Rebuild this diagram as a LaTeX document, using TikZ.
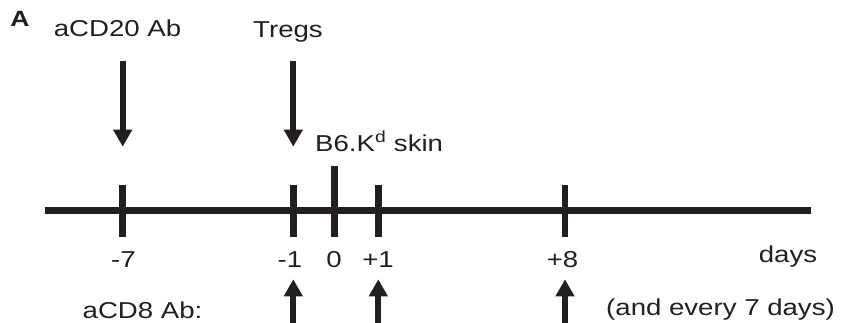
\documentclass[tikz,border=0pt]{standalone}
\usepackage{fontspec}
\setmainfont{Liberation Sans}[FakeStretch=1.2]
\usetikzlibrary{arrows.meta}
\definecolor{ink}{HTML}{231F20}
\tikzset{
  lbl/.style={anchor=base, inner sep=0pt, text=ink, font=\fontsize{23}{27}\selectfont},
  axisline/.style={draw=ink, line width=6.5pt},
  tickline/.style={draw=ink, line width=6.5pt},
  dose/.style={draw=ink, line width=6pt, -{Triangle[width=18pt,length=17pt]}, fill=ink},
}
\begin{document}
\begin{tikzpicture}[x=1pt,y=-1pt]
\useasboundingbox (0,0) rectangle (842,323);
% panel letter and labels
\node[lbl, font=\fontsize{17}{20}\selectfont\bfseries] (panel) at (20,27) {\scalebox{1.3}{A}};
\node[lbl] (cd20) at (117.5,37) {aCD20 Ab};
\node[lbl] (tregs) at (288,38) {Tregs};
\node[lbl, anchor=base west] (skin) at (315,152) {B6.K\textsuperscript{d} skin};
\node[lbl] (lm7) at (123.5,267) {-7};
\node[lbl] (lm1) at (290,267) {-1};
\node[lbl] (l0) at (334,267) {0};
\node[lbl] (lp1) at (378,267) {+1};
\node[lbl] (lp8) at (562.5,267) {+8};
\node[lbl] (days) at (788,262) {days};
\node[lbl] (cd8) at (142.5,318) {aCD8 Ab:};
\node[lbl] (every) at (720.5,315) {(and every 7 days)};
% axis
\coordinate (axL) at (45,210.7);
\coordinate (axR) at (810.7,210.7);
\draw[axisline] (axL) -- (axR);
% ticks
\foreach \n/\x/\t in {m7/122.7/185, m1/293.3/185, z/334.3/165.7, p1/378.3/185, p8/565/185}{
  \coordinate (t\n a) at (\x,\t);
  \coordinate (t\n b) at (\x,236.7);
  \draw[tickline] (t\n a) -- (t\n b);
}
% down arrows
\coordinate (d1a) at (122.7,61);
\coordinate (d1b) at (122.7,146.7);
\coordinate (d2a) at (293.3,61);
\coordinate (d2b) at (293.3,146.7);
\draw[dose] (d1a) -- (d1b);
\draw[dose] (d2a) -- (d2b);
% up arrows
\foreach \n/\x in {u1/293.3, u2/378.3, u3/565}{
  \coordinate (\n a) at (\x,323);
  \coordinate (\n b) at (\x,279.3);
  \draw[dose] (\n a) -- (\n b);
}
\end{tikzpicture}
\end{document}
